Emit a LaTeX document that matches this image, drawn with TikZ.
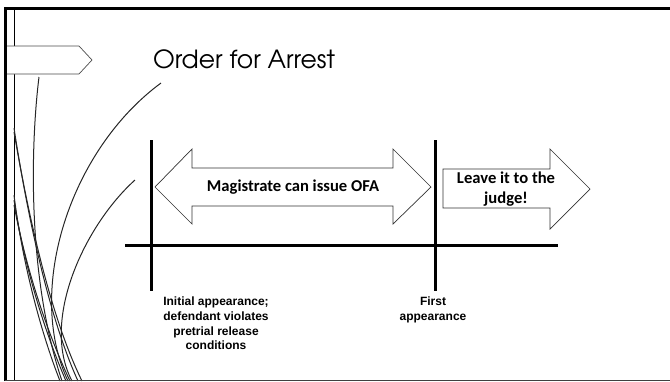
\documentclass[tikz,border=0pt]{standalone}
\usepackage{fontspec}
\newfontfamily\titlefont{TeX Gyre Adventor}
\newfontfamily\calfont{Carlito}
\newfontfamily\arfont{Liberation Sans}
\begin{document}
\begin{tikzpicture}
	[x=1pt, y=-1pt,
	 wisp/.style={line width=1pt, black!85},
	 bar/.style={line width=3pt},
	 arrowbox/.style={draw=black!80, line width=0.7pt, fill=white},
	 boxtext/.style={font=\calfont\bfseries\fontsize{16.6}{20.5}\selectfont, align=center, inner sep=0pt},
	 ticktext/.style={font=\arfont\bfseries\fontsize{12}{14.6}\selectfont, align=center, anchor=north, inner sep=0pt}]
	\useasboundingbox (0,0) rectangle (670,381);
	
	\draw[line width=0.9pt] (14,8) -- (14,381);
	\draw[wisp] (161,83) .. controls (70,150) and (25,290) .. (68,381);
	\draw[wisp] (135,180) .. controls (85,225) and (40,320) .. (72,381);
	\draw[wisp] (39,77) .. controls (30,150) and (28,280) .. (62,381);
	\draw[wisp] (14,128) .. controls (28,220) and (50,320) .. (78,381);
	\draw[wisp] (14,132) .. controls (30,225) and (52,320) .. (82,381);
	\draw[wisp] (14,195) .. controls (22,260) and (40,330) .. (60,381);
	\draw[wisp] (14,200) .. controls (24,265) and (44,330) .. (66,381);
	\draw[wisp] (14,205) .. controls (26,268) and (46,330) .. (70,381);
	\draw[arrowbox, draw=black!70] (5,46) -- (79,46) -- (92,60) -- (79,74) -- (5,74) -- cycle;
	
	\draw[bar] (5,381) -- (5,8) -- (670,8);
	\draw[black!75, line width=1pt] (5,380) -- (670,380);
	
	\node[anchor=base west, inner sep=0pt] (title) at (153,68) {\titlefont\fontsize{25}{29}\selectfont Order for Arrest};
	
	\coordinate (v1t) at (151,140);
	\coordinate (v1b) at (151,291);
	\coordinate (v2t) at (435,140);
	\coordinate (v2b) at (435,291);
	\coordinate (hl) at (125,245);
	\coordinate (hr) at (558,245);
	\draw[bar] (v1t) -- (v1b);
	\draw[bar] (v2t) -- (v2b);
	\draw[bar] (hl) -- (hr);
	
	\draw[arrowbox] (155,187) -- (192,149) -- (192,168) -- (393,168) -- (393,149) -- (431,187)
		-- (393,224) -- (393,206) -- (192,206) -- (192,224) -- cycle;
	\draw[arrowbox] (443,169) -- (550,169) -- (550,149) -- (590,189) -- (550,229) -- (550,208)
		-- (443,208) -- cycle;
	\node[boxtext] (ofa) at (293,187) {Magistrate can issue OFA};
	\node[boxtext] (judge) at (506,189) {Leave it to the\\judge!};
	
	\node[ticktext] (initial) at (216,297) {Initial appearance;\\defendant violates\\pretrial release\\conditions};
	\node[ticktext] (first) at (433,297) {First\\appearance};
\end{tikzpicture}
\end{document}
